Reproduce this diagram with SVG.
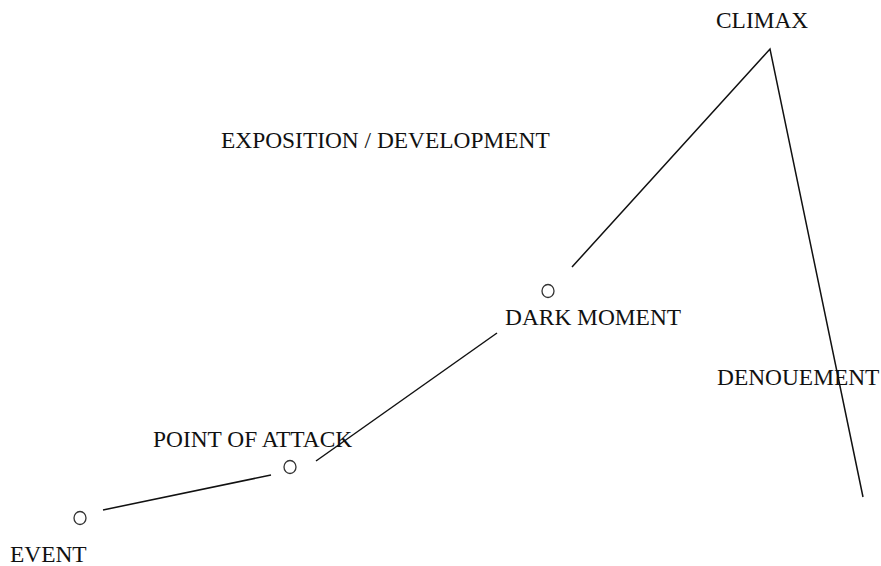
<svg xmlns="http://www.w3.org/2000/svg" width="881" height="566" viewBox="0 0 881 566">
<style>
.lbl{font-family:"Liberation Serif","Times New Roman",serif;font-size:23.4px;fill:#111}
.pt{fill:none;stroke:#333;stroke-width:1.3}
.ln{fill:none;stroke:#111;stroke-width:1.5}
</style>
<rect width="881" height="566" fill="#fff"/>
<g id="connectors">
<line class="ln" x1="103" y1="510" x2="271" y2="475"/>
<line class="ln" x1="316" y1="461" x2="497" y2="333"/>
<polyline class="ln" points="572,267 770,49 863,497"/>
</g>
<g id="event"><ellipse class="pt" cx="80" cy="518" rx="6" ry="6.5"/><text class="lbl" x="10" y="562">EVENT</text></g>
<g id="point-of-attack"><ellipse class="pt" cx="290" cy="467" rx="6" ry="6.5"/><text class="lbl" x="153" y="447">POINT OF ATTACK</text></g>
<g id="dark-moment"><ellipse class="pt" cx="548" cy="291" rx="6" ry="6.5"/><text class="lbl" x="505" y="325">DARK MOMENT</text></g>
<g id="exposition"><text class="lbl" x="221" y="148">EXPOSITION / DEVELOPMENT</text></g>
<g id="climax"><text class="lbl" x="716" y="28">CLIMAX</text></g>
<g id="denouement"><text class="lbl" x="717" y="385">DENOUEMENT</text></g>
</svg>
